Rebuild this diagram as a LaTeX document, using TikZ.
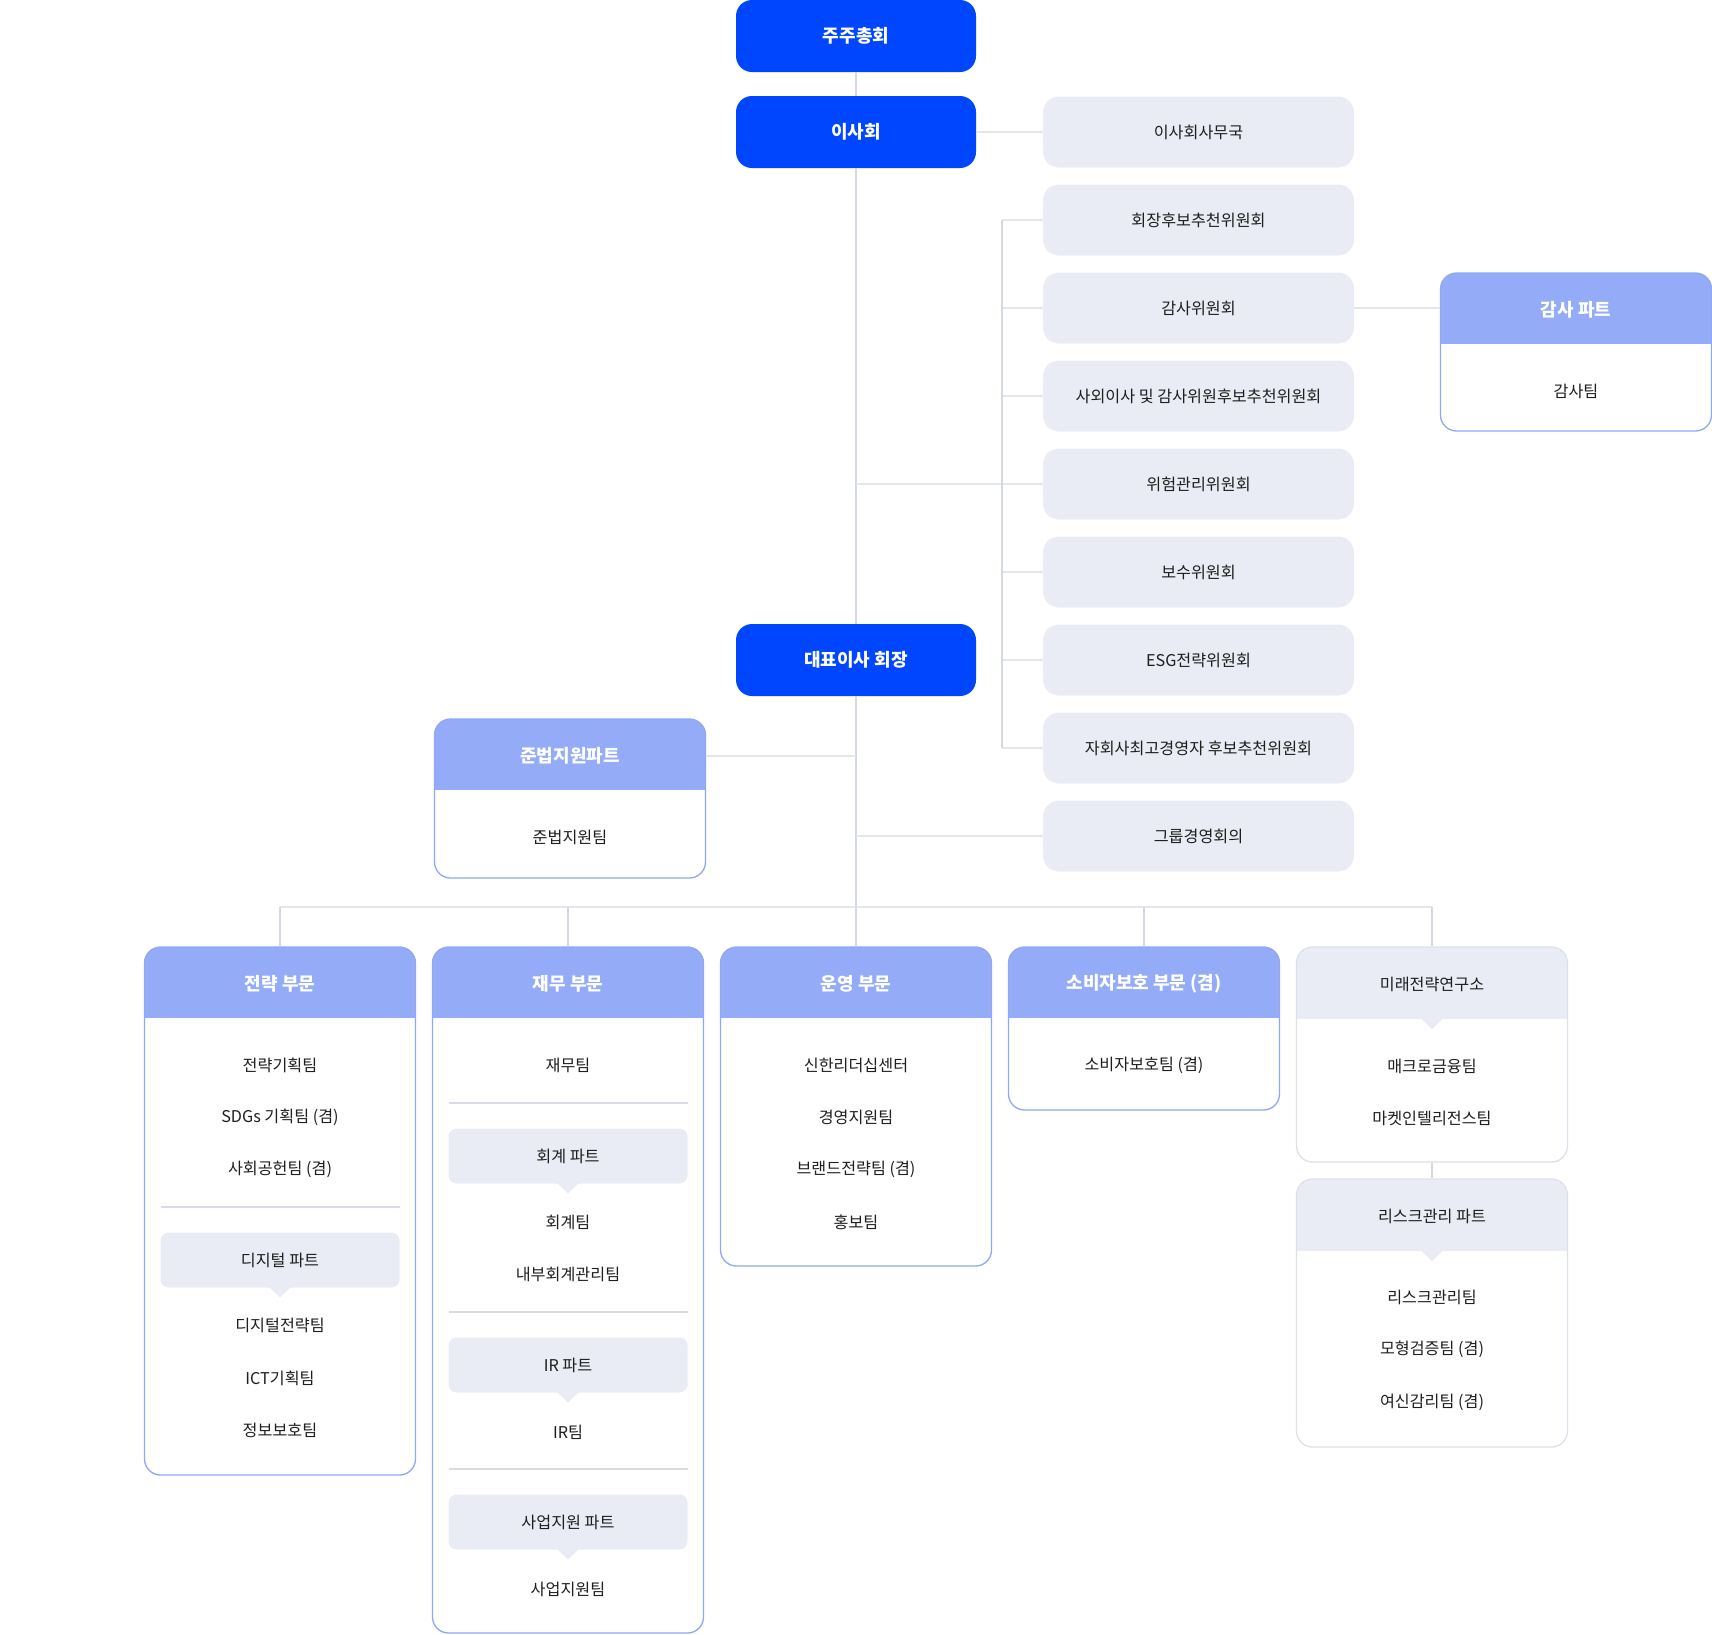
\documentclass[tikz,border=0pt]{standalone}
\usepackage{fontspec}
\setmainfont{Noto Sans CJK KR}
\usetikzlibrary{calc}
\definecolor{blueA}{HTML}{0046FF}
\definecolor{hdrC}{HTML}{94ACF8}
\definecolor{frameC}{HTML}{8EA8F5}
\definecolor{grayF}{HTML}{E9ECF4}
\definecolor{grayB}{HTML}{DDE1E9}
\definecolor{vlineC}{HTML}{D4D8E1}
\definecolor{hlineC}{HTML}{E4E6ED}
\definecolor{sepC}{HTML}{D9DCE5}
\definecolor{txtC}{HTML}{1E1E1E}
\tikzset{
 topbox/.style={fill=blueA, rounded corners=16pt, minimum width=240pt, minimum height=72pt, text=white, font=\fontsize{18}{21}\selectfont\bfseries, inner sep=0pt},
 rbox/.style={fill=grayF, rounded corners=16pt, minimum width=311pt, minimum height=71pt, text=txtC, font=\fontsize{16.2}{19}\selectfont, inner sep=0pt},
 colframe/.style={draw=frameC, line width=1.3pt, rounded corners=16pt, minimum width=271pt, inner sep=0pt},
 grayframe/.style={draw=grayB, line width=1.3pt, rounded corners=16pt, minimum width=271pt, inner sep=0pt},
 hdrtext/.style={text=white, font=\fontsize{18}{21}\selectfont\bfseries, inner sep=0pt, yshift=-1.5pt},
 ghdrtext/.style={text=txtC, font=\fontsize{16.2}{19}\selectfont, inner sep=0pt, yshift=-1pt},
 item/.style={text=txtC, font=\fontsize{16.2}{19}\selectfont, inner sep=0pt, yshift=-1.5pt},
 partbox/.style={fill=grayF, rounded corners=8pt, minimum width=239pt, minimum height=55pt, text=txtC, font=\fontsize{16.2}{19}\selectfont, inner sep=0pt},
 vl/.style={draw=vlineC, line width=1.6pt},
 hl/.style={draw=hlineC, line width=2pt},
 sepline/.style={draw=sepC, line width=1.3pt},
}
% #1 name, #2 cx, #3 top, #4 bottom, #5 header text
\newcommand\hdrcol[5]{%
 \begin{scope}
 \clip[rounded corners=16pt] ({#2-135.5},#3) rectangle ({#2+135.5},#4);
 \fill[hdrC] ({#2-135.5},#3) rectangle ({#2+135.5},{#3+71});
 \end{scope}
 \node[colframe, minimum height={#4-#3}] (#1) at (#2,{(#3+#4)/2}) {};
 \node[hdrtext] (#1h) at (#2,{#3+35.5}) {#5};
}
\newcommand\graycol[5]{%
 \begin{scope}
 \clip[rounded corners=16pt] ({#2-135.5},#3) rectangle ({#2+135.5},#4);
 \fill[grayF] ({#2-135.5},#3) rectangle ({#2+135.5},{#3+72});
 \end{scope}
 \fill[grayF] ({#2-11},{#3+71.5}) -- (#2,{#3+82}) -- ({#2+11},{#3+71.5}) -- cycle;
 \node[grayframe, minimum height={#4-#3}] (#1) at (#2,{(#3+#4)/2}) {};
 \node[ghdrtext] (#1h) at (#2,{#3+36}) {#5};
}
% pointer under a part box: #1 cx, #2 bottom y
\newcommand\ptr[2]{\fill[grayF] ({#1-11},{#2-0.5}) -- (#1,{#2+10}) -- ({#1+11},{#2-0.5}) -- cycle;}
\newcommand\sepat[2]{\draw[sepline] ({#1-119.5},#2) -- ({#1+119.5},#2);}

\begin{document}
\begin{tikzpicture}[x=1pt,y=-1pt]
\useasboundingbox (0,0) rectangle (1712,1634);

% ---- nodes: top
\node[topbox] (t1) at (856,36) {주주총회};
\node[topbox] (t2) at (856,132) {이사회};
\node[topbox] (t3) at (856,660) {대표이사 회장};

% ---- coordinates for connectors
\coordinate (mk) at (856,484);
\coordinate (bus) at (856,907);

% ---- right column boxes (nodes)
\node[rbox] (r1) at (1198.5,132) {이사회사무국};
\node[rbox] (r2) at (1198.5,220) {회장후보추천위원회};
\node[rbox] (r3) at (1198.5,308) {감사위원회};
\node[rbox] (r4) at (1198.5,396) {사외이사 및 감사위원후보추천위원회};
\node[rbox] (r5) at (1198.5,484) {위험관리위원회};
\node[rbox] (r6) at (1198.5,572) {보수위원회};
\node[rbox] (r7) at (1198.5,660) {ESG전략위원회};
\node[rbox] (r8) at (1198.5,748) {자회사최고경영자 후보추천위원회};
\node[rbox] (r9) at (1198.5,836) {그룹경영회의};

% ---- connectors
\draw[vl] (t1.south) -- (t2.north);
\draw[vl] (t2.south) -- (t3.north);
\draw[vl] (t3.south) -- (bus);
\draw[hl] (t2.east) -- (r1.west);
\draw[hl] (mk) -- (r5.west);
\foreach \i in {2,3,4,6,7,8} \draw[hl] (r\i.west) -- ++(-41,0);
\draw[vl] ($(r2.west)+(-41,0)$) -- ($(r8.west)+(-41,0)$);
\draw[hl] (r9.west) -- (r9.west -| t3.south);

% ---- audit part
\hdrcol{aud}{1576}{273}{431}{감사 파트}
\node[item] (audi1) at (1576,390) {감사팀};
\draw[hl] (r3.east) -- (r3.east -| aud.west);

% ---- compliance part
\hdrcol{jb}{570}{719}{878}{준법지원파트}
\node[item] (jbi1) at (570,836) {준법지원팀};
\draw[hl] (jbh -| jb.east) -- (jbh -| t3.south);

% ---- bottom columns
\hdrcol{c1}{280}{947}{1475}{전략 부문}
\hdrcol{c2}{568}{947}{1633}{재무 부문}
\hdrcol{c3}{856}{947}{1266}{운영 부문}
\hdrcol{c4}{1144}{947}{1110}{소비자보호 부문 (겸)}
\graycol{c5}{1432}{947}{1162}{미래전략연구소}
\graycol{c6}{1432}{1179}{1447}{리스크관리 파트}

\draw[hl] (c1.north |- bus) -- (c5.north |- bus);
\foreach \c in {c1,c2,c3,c4,c5} \draw[vl] (\c.north |- bus) -- (\c.north);
\draw[vl] (c5.south) -- (c6.north);

% column 1
\node[item] (c1i1) at (280,1064) {전략기획팀};
\node[item] (c1i2) at (280,1116) {SDGs 기획팀 (겸)};
\node[item] (c1i3) at (280,1168) {사회공헌팀 (겸)};
\sepat{280}{1207}
\ptr{280}{1287.5}
\node[partbox] (c1p1) at (280,1260) {디지털 파트};
\node[item] (c1i4) at (280,1324) {디지털전략팀};
\node[item] (c1i5) at (280,1377) {ICT기획팀};
\node[item] (c1i6) at (280,1429) {정보보호팀};

% column 2
\node[item] (c2i1) at (568,1064) {재무팀};
\sepat{568}{1103}
\ptr{568}{1183.5}
\node[partbox] (c2p1) at (568,1156) {회계 파트};
\node[item] (c2i2) at (568,1221) {회계팀};
\node[item] (c2i3) at (568,1273) {내부회계관리팀};
\sepat{568}{1312}
\ptr{568}{1392.5}
\node[partbox] (c2p2) at (568,1365) {IR 파트};
\node[item] (c2i4) at (568,1431) {IR팀};
\sepat{568}{1469}
\ptr{568}{1549.5}
\node[partbox] (c2p3) at (568,1522) {사업지원 파트};
\node[item] (c2i5) at (568,1588) {사업지원팀};

% column 3
\node[item] (c3i1) at (856,1064) {신한리더십센터};
\node[item] (c3i2) at (856,1116) {경영지원팀};
\node[item] (c3i3) at (856,1168) {브랜드전략팀 (겸)};
\node[item] (c3i4) at (856,1221) {홍보팀};

% column 4
\node[item] (c4i1) at (1144,1064) {소비자보호팀 (겸)};

% column 5
\node[item] (c5i1) at (1432,1065) {매크로금융팀};
\node[item] (c5i2) at (1432,1117) {마켓인텔리전스팀};
\node[item] (c6i1) at (1432,1296) {리스크관리팀};
\node[item] (c6i2) at (1432,1348) {모형검증팀 (겸)};
\node[item] (c6i3) at (1432,1401) {여신감리팀 (겸)};
\end{tikzpicture}
\end{document}
